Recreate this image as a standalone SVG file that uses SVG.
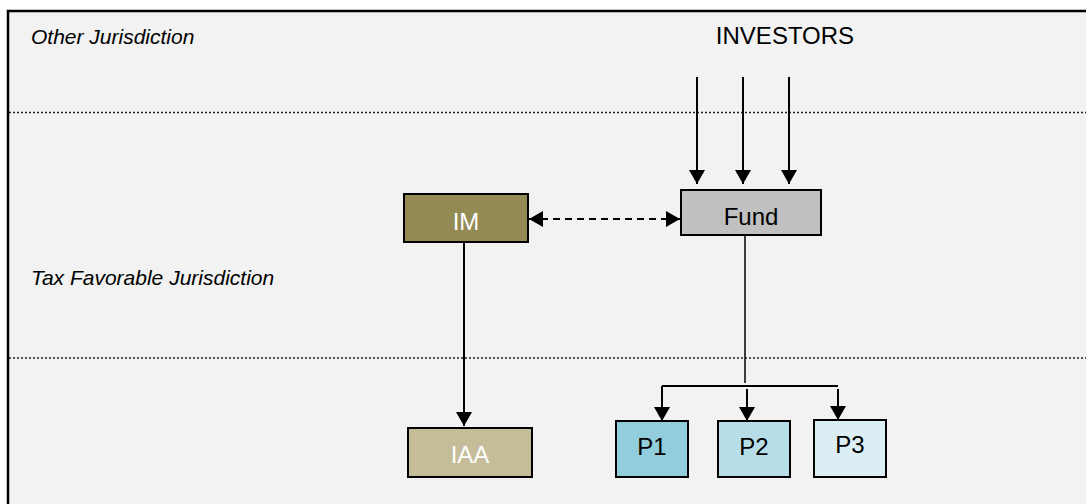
<svg xmlns="http://www.w3.org/2000/svg" width="1086" height="504" viewBox="0 0 1086 504">
<style>
.lbl{font-family:"Liberation Sans",Arial,sans-serif;font-style:italic;font-size:21px;fill:#000}
.txt{font-family:"Liberation Sans",Arial,sans-serif;font-size:24px;text-anchor:middle}
.box{stroke:#000;stroke-width:2}
.sep{stroke:#222;stroke-width:1.5;stroke-dasharray:2,2;fill:none}
.con{stroke:#000;stroke-width:2;fill:none}
</style>
<defs>
<marker id="ah" viewBox="0 0 14 16" refX="14" refY="8" markerWidth="14" markerHeight="16" markerUnits="userSpaceOnUse" orient="auto-start-reverse">
<path d="M0,0 L14,8 L0,16 Z" fill="#000"/>
</marker>
</defs>
<rect width="1086" height="504" fill="#fff"/>
<rect x="8" y="11" width="1078" height="493" fill="#f2f2f2"/>
<path d="M8,504 V11 H1086" stroke="#000" stroke-width="2.5" fill="none"/>
<line class="sep" x1="9" y1="112.5" x2="1086" y2="112.5"/>
<line class="sep" x1="9" y1="358" x2="1086" y2="358"/>
<text class="lbl" x="31" y="44">Other Jurisdiction</text>
<text class="lbl" x="31" y="285">Tax Favorable Jurisdiction</text>
<text class="txt" x="785" y="44" fill="#000">INVESTORS</text>
<g id="connectors">
<line class="con" x1="697" y1="77" x2="697" y2="184" marker-end="url(#ah)"/>
<line class="con" x1="743" y1="77" x2="743" y2="184" marker-end="url(#ah)"/>
<line class="con" x1="789" y1="77" x2="789" y2="184" marker-end="url(#ah)"/>
<line class="con" x1="529" y1="219" x2="680" y2="219" stroke-dasharray="7,5" marker-start="url(#ah)" marker-end="url(#ah)"/>
<line class="con" x1="464" y1="242" x2="464" y2="426" marker-end="url(#ah)"/>
<line x1="745" y1="235" x2="745" y2="383" stroke="#000" stroke-width="1.5"/>
<path class="con" d="M662,386 H838"/>
<line class="con" x1="662" y1="386" x2="662" y2="421" marker-end="url(#ah)"/>
<line class="con" x1="747" y1="389" x2="747" y2="421" marker-end="url(#ah)"/>
<line class="con" x1="838" y1="389" x2="838" y2="420" marker-end="url(#ah)"/>
</g>
<g id="IM"><rect class="box" x="404" y="194" width="124" height="48" fill="#948a54"/><text class="txt" x="466" y="230" fill="#fff">IM</text></g>
<g id="Fund"><rect class="box" x="681" y="190" width="140" height="45" fill="#c0c0c0"/><text class="txt" x="751" y="225" fill="#000">Fund</text></g>
<g id="IAA"><rect class="box" x="408" y="428" width="124" height="49" fill="#c4bd97"/><text class="txt" x="470" y="463" fill="#fff">IAA</text></g>
<g id="P1"><rect class="box" x="616" y="421" width="72" height="56" fill="#92cddc"/><text class="txt" x="652" y="455" fill="#000">P1</text></g>
<g id="P2"><rect class="box" x="718" y="421" width="72" height="56" fill="#b7dee8"/><text class="txt" x="754" y="455" fill="#000">P2</text></g>
<g id="P3"><rect class="box" x="814" y="420" width="72" height="57" fill="#dbeef4"/><text class="txt" x="850" y="453" fill="#000">P3</text></g>
</svg>
